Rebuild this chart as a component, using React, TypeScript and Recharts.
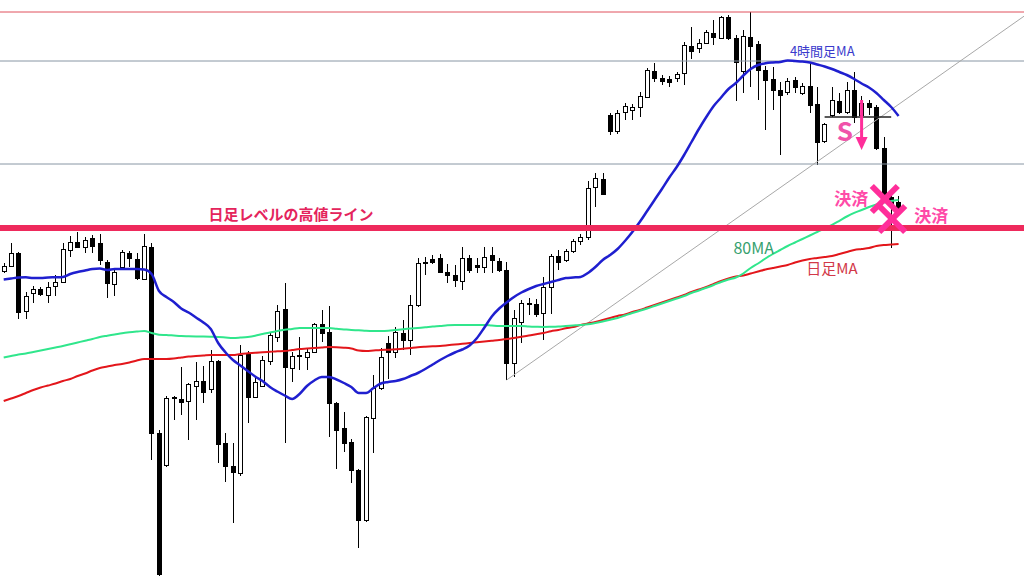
import React from 'react';
import {
  ComposedChart,
  Bar,
  Line,
  XAxis,
  YAxis,
  ReferenceLine,
  ReferenceDot,
} from 'recharts';

// 4-hour candles (price)
const opens = [
  112.05, 112.1, 112.23, 111.65, 111.83, 111.87, 111.81, 111.9, 111.94, 112.26,
  112.34, 112.29, 112.38, 112.33, 112.14, 111.92, 112.09, 112.23, 112.17, 111.97,
  112.29, 110.43, 110.11, 110.78, 110.77, 110.75, 110.9, 110.95, 110.87, 111.15,
  110.33, 110.1, 110.03, 111.22, 110.79, 110.9, 111.15, 111.39, 111.67, 111.08,
  111.2, 111.19, 111.24, 111.52, 111.44, 110.73, 110.48, 110.34, 110.06, 109.56,
  110.58, 110.88, 111.33, 111.24, 111.43, 111.36, 111.71, 112.13, 112.17, 112.18,
  112.04, 112.01, 111.95, 112.18, 112.11, 112.09, 112.21, 112.15, 112.06, 111.13,
  111.54, 111.72, 111.72, 111.63, 111.89, 112.2, 112.16, 112.25, 112.35, 112.39,
  112.89, 112.97, 113.61, 113.45, 113.64, 113.66, 113.69, 113.79, 114.05, 113.98,
  113.97, 113.98, 114.03, 114.3, 114.28, 114.33, 114.43, 114.38, 114.59, 114.38,
  114.05, 114.39, 114.32, 114.06, 113.97, 113.86, 113.84, 113.96, 113.83, 113.9,
  113.72, 113.35, 113.61, 113.75, 113.64, 113.86, 113.61, 113.73, 113.69, 113.28,
  112.79, 112.74,
];
const highs = [
  112.13, 112.33, 112.24, 111.84, 111.9, 111.89, 111.94, 112.01, 112.33, 112.4,
  112.44, 112.39, 112.41, 112.42, 112.16, 112.08, 112.26, 112.25, 112.23, 112.42,
  112.33, 110.46, 110.8, 110.8, 111.09, 110.93, 111.14, 111.1, 111.26, 111.16,
  110.43, 110.33, 111.31, 111.25, 110.98, 111.2, 111.43, 111.71, 111.93, 111.24,
  111.39, 111.28, 111.53, 111.66, 111.7, 110.74, 110.64, 110.37, 110.07, 110.6,
  111.01, 111.28, 111.4, 111.49, 111.56, 111.81, 112.18, 112.19, 112.21, 112.22,
  112.12, 112.11, 112.29, 112.21, 112.18, 112.29, 112.29, 112.18, 112.14, 111.66,
  111.76, 111.78, 111.77, 111.99, 112.22, 112.26, 112.27, 112.37, 112.42, 112.95,
  113.03, 113.03, 113.63, 113.66, 113.73, 113.72, 113.84, 114.08, 114.13, 114.01,
  114.0, 114.04, 114.34, 114.49, 114.37, 114.46, 114.56, 114.6, 114.61, 114.41,
  114.46, 114.64, 114.35, 114.1, 114.09, 113.94, 113.98, 113.99, 113.93, 114.13,
  113.89, 113.53, 113.89, 113.83, 113.94, 114.04, 113.8, 113.76, 113.71, 113.39,
  112.86, 112.8,
];
const lows = [
  112.03, 112.09, 111.57, 111.57, 111.73, 111.8, 111.73, 111.8, 111.93, 112.19,
  112.28, 112.23, 112.23, 112.11, 111.78, 111.8, 112.07, 112.09, 111.96, 111.96,
  110.16, 109.0, 110.09, 110.56, 110.61, 110.36, 110.56, 110.73, 110.83, 110.13,
  109.94, 109.53, 110.0, 110.53, 110.78, 110.89, 111.11, 111.34, 110.33, 110.94,
  111.06, 111.06, 111.23, 111.34, 110.39, 110.07, 110.24, 109.93, 109.28, 109.54,
  110.23, 110.86, 110.97, 111.18, 111.26, 111.21, 111.69, 112.01, 112.12, 112.03,
  111.93, 111.89, 111.86, 112.03, 112.03, 112.03, 112.03, 112.04, 110.96, 110.99,
  111.33, 111.61, 111.59, 111.36, 111.62, 112.06, 112.14, 112.23, 112.31, 112.36,
  112.69, 112.81, 113.41, 113.42, 113.56, 113.56, 113.59, 113.78, 113.94, 113.91,
  113.89, 113.94, 113.91, 114.17, 114.23, 114.32, 114.31, 114.37, 114.36, 113.75,
  113.83, 113.89, 113.76, 113.46, 113.66, 113.21, 113.81, 113.83, 113.81, 113.63,
  113.11, 113.33, 113.59, 113.62, 113.62, 113.53, 113.58, 113.61, 113.26, 112.76,
  112.28, 112.64,
];
const closes = [
  112.1, 112.23, 111.64, 111.8, 111.87, 111.82, 111.89, 111.94, 112.27, 112.34,
  112.29, 112.36, 112.3, 112.16, 111.93, 112.04, 112.24, 112.18, 111.98, 112.3,
  110.43, 109.02, 110.78, 110.79, 110.74, 110.92, 110.95, 110.84, 111.15, 110.32,
  110.1, 110.04, 111.21, 110.79, 110.94, 111.16, 111.41, 111.65, 111.09, 111.2,
  111.21, 111.24, 111.52, 111.43, 110.73, 110.46, 110.33, 110.06, 109.56, 110.59,
  110.88, 111.19, 111.24, 111.44, 111.36, 111.71, 112.13, 112.14, 112.14, 112.04,
  112.01, 111.96, 112.18, 112.06, 112.09, 112.19, 112.16, 112.06, 111.13, 111.58,
  111.73, 111.73, 111.62, 111.89, 112.2, 112.14, 112.25, 112.35, 112.39, 112.88,
  112.98, 112.82, 113.45, 113.63, 113.7, 113.69, 113.8, 114.06, 113.98, 113.95,
  113.94, 114.02, 114.31, 114.25, 114.33, 114.44, 114.39, 114.59, 114.38, 114.14,
  114.4, 114.3, 114.06, 113.96, 113.86, 113.81, 113.95, 113.89, 113.9, 113.71,
  113.34, 113.52, 113.76, 113.64, 113.86, 113.59, 113.73, 113.69, 113.28, 112.81,
  112.71, 112.68,
];

// 4時間足MA
const ma4h = [
  111.965, 111.975, 111.985, 111.987, 111.98, 111.98, 111.985, 111.987, 111.99, 112.02,
  112.04, 112.055, 112.07, 112.075, 112.06, 112.07, 112.07, 112.07, 112.07, 112.065,
  112.02, 111.85, 111.79, 111.74, 111.675, 111.635, 111.585, 111.535, 111.47, 111.33,
  111.235, 111.16, 111.105, 111.05, 110.995, 110.95, 110.89, 110.845, 110.805, 110.77,
  110.82, 110.9, 110.955, 110.99, 110.99, 110.965, 110.93, 110.89, 110.83, 110.83,
  110.88, 110.925, 110.94, 110.95, 110.97, 111.0, 111.03, 111.07, 111.115, 111.16,
  111.2, 111.235, 111.265, 111.305, 111.38, 111.485, 111.595, 111.675, 111.735, 111.79,
  111.835, 111.87, 111.9, 111.92, 111.94, 111.96, 111.98, 111.985, 111.99, 112.03,
  112.09, 112.16, 112.21, 112.27, 112.35, 112.44, 112.54, 112.65, 112.76, 112.87,
  112.985, 113.09, 113.21, 113.34, 113.47, 113.59, 113.7, 113.785, 113.87, 113.93,
  114.005, 114.07, 114.11, 114.127, 114.135, 114.14, 114.155, 114.15, 114.145, 114.135,
  114.115, 114.095, 114.07, 114.04, 114.01, 113.97, 113.925, 113.885, 113.83, 113.76,
  113.69, 113.6,
];
// 80MA
const ma80 = [
  111.185, 111.2, 111.215, 111.225, 111.24, 111.255, 111.27, 111.285, 111.3, 111.317,
  111.335, 111.353, 111.37, 111.39, 111.403, 111.415, 111.428, 111.437, 111.444, 111.45,
  111.43, 111.413, 111.41, 111.405, 111.4, 111.398, 111.396, 111.394, 111.392, 111.39,
  111.385, 111.38, 111.384, 111.39, 111.402, 111.42, 111.435, 111.45, 111.462, 111.47,
  111.48, 111.48, 111.48, 111.48, 111.48, 111.472, 111.466, 111.46, 111.457, 111.452,
  111.45, 111.45, 111.452, 111.46, 111.468, 111.475, 111.48, 111.487, 111.495, 111.5,
  111.507, 111.51, 111.51, 111.51, 111.51, 111.51, 111.505, 111.5, 111.5, 111.5,
  111.5, 111.495, 111.492, 111.49, 111.492, 111.495, 111.5, 111.505, 111.51, 111.517,
  111.53, 111.545, 111.562, 111.58, 111.605, 111.63, 111.652, 111.675, 111.7, 111.725,
  111.75, 111.775, 111.8, 111.83, 111.855, 111.882, 111.91, 111.94, 111.965, 111.985,
  112.025, 112.08, 112.125, 112.175, 112.22, 112.26, 112.3, 112.335, 112.37, 112.405,
  112.44, 112.475, 112.51, 112.552, 112.595, 112.632, 112.66, 112.69, 112.715, 112.735,
  112.75, 112.76,
];
// 日足MA
const maDaily = [
  110.75, 110.775, 110.8, 110.83, 110.86, 110.885, 110.905, 110.925, 110.95, 110.97,
  111.0, 111.025, 111.055, 111.08, 111.095, 111.11, 111.12, 111.135, 111.155, 111.17,
  111.17, 111.17, 111.17, 111.175, 111.185, 111.195, 111.2, 111.205, 111.21, 111.21,
  111.21, 111.21, 111.22, 111.227, 111.233, 111.237, 111.242, 111.247, 111.25, 111.26,
  111.27, 111.275, 111.28, 111.285, 111.29, 111.288, 111.283, 111.275, 111.255, 111.25,
  111.255, 111.26, 111.263, 111.267, 111.272, 111.28, 111.288, 111.293, 111.297, 111.3,
  111.307, 111.315, 111.322, 111.33, 111.337, 111.344, 111.352, 111.36, 111.37, 111.38,
  111.392, 111.405, 111.418, 111.43, 111.448, 111.46, 111.477, 111.49, 111.51, 111.525,
  111.54, 111.56, 111.58, 111.6, 111.615, 111.64, 111.66, 111.685, 111.71, 111.735,
  111.76, 111.785, 111.81, 111.84, 111.865, 111.89, 111.92, 111.95, 111.975, 111.995,
  112.005, 112.025, 112.045, 112.065, 112.08, 112.095, 112.11, 112.135, 112.155, 112.17,
  112.18, 112.19, 112.2, 112.22, 112.24, 112.26, 112.27, 112.28, 112.3, 112.31,
  112.315, 112.32,
];

// Price levels and drawn lines
const TOP_HIGH = 114.64;
const GRID_LEVELS = [114.15, 113.12];
const DAILY_HIGH_LINE = 112.48;
const TREND_LINE = [
  { x: 68, y: 110.96 },
  { x: 138, y: 114.6 },
];
const ENTRY_LINE = [
  { x: 111, y: 113.59 },
  { x: 120, y: 113.59 },
];
const ARROW = { x: 116, from: 113.76, to: 113.3, tip: 113.26 };
const EXITS = [
  { x: 119, y: 112.77 },
  { x: 120, y: 112.57 },
];

const SLOTS = 139;
const PRICE_MIN = 109.0;
const PRICE_MAX = 114.76;

const data = Array.from({ length: SLOTS }, (_, i) =>
  i < opens.length
    ? {
        i,
        open: opens[i],
        high: highs[i],
        low: lows[i],
        close: closes[i],
        range: [lows[i], highs[i]],
        ma4h: ma4h[i],
        ma80: ma80[i],
        maDaily: maDaily[i],
      }
    : { i }
);

const JP_FONT = "'Noto Sans CJK JP', 'Noto Sans', sans-serif";
const PINK = '#ff2e9a';

const Candle = (props: any) => {
  const { x, y, width, height, payload } = props;
  if (!payload || payload.open == null || !height) return null;
  const { open, close, high, low } = payload;
  const span = high - low;
  const toY = (v: number) => y + ((high - v) / span) * height;
  const cx = Math.round(x + width / 2) + 0.5;
  const bull = close >= open;
  const top = Math.round(toY(Math.max(open, close))) + 0.5;
  const bot = Math.round(toY(Math.min(open, close))) + 0.5;
  const h = Math.max(1, bot - top);
  return (
    <g>
      <line x1={cx} x2={cx} y1={y} y2={y + height} stroke="#000" strokeWidth={1} />
      <rect
        x={cx - 2}
        y={top}
        width={4}
        height={h}
        fill={bull ? '#fff' : '#000'}
        stroke="#000"
        strokeWidth={1}
      />
    </g>
  );
};

const textShape =
  (text: string, color: string, size: number, weight: number, dx = 0) =>
  (p: any) =>
    (
      <text
        x={p.cx + dx}
        y={p.cy}
        textAnchor="middle"
        fill={color}
        fontSize={size}
        fontWeight={weight}
        fontFamily={JP_FONT}
      >
        {text}
      </text>
    );

const CrossMark = (p: any) => {
  const s = 13;
  const cx = p.cx + 1;
  const cy = p.cy;
  return (
    <g stroke={PINK} strokeWidth={6} strokeLinecap="butt">
      <line x1={cx - s} y1={cy - s} x2={cx + s} y2={cy + s} />
      <line x1={cx + s} y1={cy - s} x2={cx - s} y2={cy + s} />
    </g>
  );
};

const ArrowHead = (p: any) => {
  const { cx, cy } = p;
  return <polygon points={`${cx - 6},${cy - 13} ${cx + 6},${cy - 13} ${cx},${cy}`} fill={PINK} />;
};

const maProps = {
  type: 'monotone' as const,
  dot: false,
  activeDot: false,
  legendType: 'none' as const,
  isAnimationActive: false,
};

export default function App() {
  return (
    <div
      style={{
        position: 'absolute',
        left: 0,
        top: 0,
        width: 1024,
        height: 576,
        overflow: 'hidden',
        background: '#fff',
      }}
    >
      <ComposedChart
        width={1028}
        height={576}
        data={data}
        margin={{ top: 0, right: 0, bottom: 0, left: 0 }}
        barCategoryGap={0}
        barGap={0}
      >
        <XAxis dataKey="i" type="category" hide />
        <YAxis type="number" hide domain={[PRICE_MIN, PRICE_MAX]} allowDataOverflow />

        <ReferenceLine y={TOP_HIGH} stroke="#e0505c" strokeWidth={1} />
        {GRID_LEVELS.map((v) => (
          <ReferenceLine key={v} y={v} stroke="#8896a4" strokeWidth={1} />
        ))}
        <ReferenceLine segment={TREND_LINE} stroke="#a8a8a8" strokeWidth={1} />

        <Line dataKey="maDaily" stroke="#e3161b" strokeWidth={2} {...maProps} />
        <Line dataKey="ma80" stroke="#30e68c" strokeWidth={2} {...maProps} />
        <Line dataKey="ma4h" stroke="#1f1fcf" strokeWidth={2.5} {...maProps} />

        <Bar dataKey="range" barSize={5} shape={Candle} isAnimationActive={false} />

        <ReferenceLine y={DAILY_HIGH_LINE} stroke="#ee2a5c" strokeWidth={6} />
        <ReferenceLine segment={ENTRY_LINE} stroke="#222" strokeWidth={1.5} />
        <ReferenceLine
          segment={[
            { x: ARROW.x, y: ARROW.from },
            { x: ARROW.x, y: ARROW.to },
          ]}
          stroke={PINK}
          strokeWidth={3}
        />
        <ReferenceDot x={ARROW.x} y={ARROW.tip} r={1} shape={ArrowHead} />

        {EXITS.map((e) => (
          <ReferenceDot key={e.x} x={e.x} y={e.y} r={1} shape={CrossMark} />
        ))}

        <ReferenceDot
          x={39}
          y={112.56}
          r={1}
          shape={textShape('日足レベルの高値ライン', '#e4245c', 15, 700, -1)}
        />
        <ReferenceDot x={110} y={114.2} r={1} shape={textShape('4時間足MA', '#3a3acc', 13, 400, 5)} />
        <ReferenceDot x={101} y={112.22} r={1} shape={textShape('80MA', '#35a06e', 16, 400, 3)} />
        <ReferenceDot x={112} y={112.02} r={1} shape={textShape('日足MA', '#d23848', 15, 400, 0)} />
        <ReferenceDot x={115} y={112.71} r={1} shape={textShape('決済', '#ff4aa8', 17, 700, -3)} />
        <ReferenceDot x={125} y={112.54} r={1} shape={textShape('決済', '#ff4aa8', 17, 700, 3)} />
        <ReferenceDot x={114} y={113.35} r={1} shape={textShape('S', '#f052aa', 26, 700, -2)} />
      </ComposedChart>
    </div>
  );
}
